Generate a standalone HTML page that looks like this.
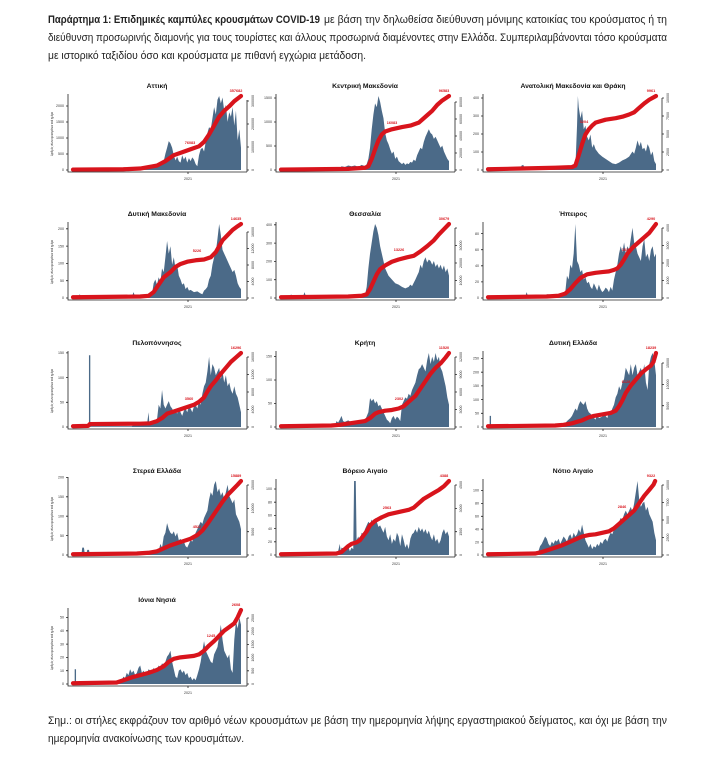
<!DOCTYPE html>
<html><head><meta charset="utf-8"><style>
html,body{margin:0;padding:0;background:#fff;}
svg{display:block;}
.ax{stroke:#222;stroke-width:.8;fill:none}
.bar{fill:#4b6a88}
.red{fill:none;stroke:#d8141c;stroke-width:4.2;stroke-linejoin:round;stroke-linecap:round}
.tk{font-family:"Liberation Sans",sans-serif;font-size:3.6px;fill:#333}
.tt{font-family:"Liberation Sans",sans-serif;font-weight:bold;font-size:6.8px;fill:#111;text-anchor:middle}
.rl{font-family:"Liberation Sans",sans-serif;font-weight:bold;font-size:3.8px;fill:#d8141c;text-anchor:middle}
.tx{font-family:"Liberation Sans","Noto Sans CJK SC",sans-serif;font-size:11px;fill:#222}
.l{text-anchor:end}
.m{text-anchor:middle}
</style></head><body>
<svg width="713" height="758" viewBox="0 0 713 758" xmlns="http://www.w3.org/2000/svg">
<rect width="713" height="758" fill="#fff"/>

<text class="tx" x="48" y="23" font-weight="bold" textLength="272" lengthAdjust="spacingAndGlyphs">Παράρτημα 1:  Επιδημικές καμπύλες κρουσμάτων COVID-19</text>
<text class="tx" x="324" y="23" textLength="343" lengthAdjust="spacingAndGlyphs">με βάση την δηλωθείσα διεύθυνση μόνιμης κατοικίας του κρούσματος ή τη</text>
<text class="tx" x="48" y="41" textLength="619" lengthAdjust="spacingAndGlyphs">διεύθυνση προσωρινής διαμονής για τους τουρίστες και άλλους προσωρινά διαμένοντες στην Ελλάδα.  Συμπεριλαμβάνονται τόσο κρούσματα</text>
<text class="tx" x="48" y="59" textLength="318" lengthAdjust="spacingAndGlyphs">με ιστορικό ταξιδίου όσο και κρούσματα με πιθανή εγχώρια μετάδοση.</text>

<text class="tx" x="48" y="724" textLength="619" lengthAdjust="spacingAndGlyphs">Σημ.:  οι στήλες εκφράζουν τον αριθμό νέων κρουσμάτων με βάση την ημερομηνία λήψης εργαστηριακού δείγματος, και όχι με βάση την</text>
<text class="tx" x="48" y="742" textLength="196" lengthAdjust="spacingAndGlyphs">ημερομηνία ανακοίνωσης των κρουσμάτων.</text>

<!-- Chart 1 Αττική -->
<g transform="translate(68,170)">
<text class="tt" x="89" y="-82">Αττική</text>
<polygon class="bar" transform="translate(5,0) scale(1.68,-0.74)" points="0,0 0,0.5 20,0.5 30,0.8 38,1.5 42,3 44,2 46,5 48,4 50,6 52,8 53,7 54,12 55,22 56,30 57,39 58,36 59,30 60,20 61,13 62,18 63,12 64,10 65,20 66,14 67,18 68,10 69,16 70,12 71,17 72,14 73,8 74,5 75,20 76,28 77,30 78,25 79,38 80,50 81,58 82,55 83,70 84,85 85,75 86,95 87,100 88,90 89,98 90,80 91,88 92,65 93,78 94,72 95,85 96,60 97,80 98,40 99,55 100,30 100,0"/>
<polyline class="red" vector-effect="non-scaling-stroke" transform="translate(5,0) scale(1.68,-0.74)" points="0,0.5 30,1 40,2 50,6 55,12 60,20 65,24 70,28 75,32 78,38 81,48 84,60 87,72 90,80 93,86 96,93 100,100"/>
<text class="rl" x="168" y="-78">357682</text>
<text class="rl" x="122" y="-26">76083</text>
<path class="ax" d="M0,-76V2H179M179,2V-70M-2,0H0M-2,-16H0M-2,-32H0M-2,-48H0M-2,-64H0M179,0h2M179,-23h2M179,-46h2M179,-69h2M120,2v2"/>
<text class="tk l" x="-4" y="1.2">0</text><text class="tk l" x="-4" y="-14.8">500</text><text class="tk l" x="-4" y="-30.8">1000</text><text class="tk l" x="-4" y="-46.8">1500</text><text class="tk l" x="-4" y="-62.8">2000</text>
<text class="tk m" transform="translate(186,0) rotate(-90)">0</text><text class="tk m" transform="translate(186,-23) rotate(-90)">100000</text><text class="tk m" transform="translate(186,-46) rotate(-90)">200000</text><text class="tk m" transform="translate(186,-69) rotate(-90)">300000</text>
<text class="tk m" x="120" y="10">2021</text>
<text class="tk m" transform="translate(-15,-36) rotate(-90)" textLength="44" lengthAdjust="spacingAndGlyphs">Αριθμός νέων κρουσμάτων ανά ημέρα</text>
</g>

<!-- Chart 2 Κεντρική Μακεδονία -->
<g transform="translate(276,170)">
<text class="tt" x="89" y="-82">Κεντρική Μακεδονία</text>
<polygon class="bar" transform="translate(5,0) scale(1.68,-0.74)" points="0,0 0,0.5 30,0.5 35,1 36,5 38,4 40,6 42,5 44,6 46,4 48,7 50,5 51,8 52,15 53,30 54,55 55,75 56,90 57,85 58,100 59,92 60,80 61,70 62,50 63,40 64,35 65,28 66,22 67,25 68,15 69,18 70,12 71,10 72,8 73,10 74,7 75,9 76,8 77,11 78,10 79,14 80,12 81,20 82,25 83,30 84,28 85,38 86,45 87,50 88,55 89,50 90,48 91,42 92,45 93,40 94,35 95,30 96,33 97,25 98,20 99,15 100,12 100,0"/>
<polyline class="red" vector-effect="non-scaling-stroke" transform="translate(5,0) scale(1.68,-0.74)" points="0,0.5 40,1.5 50,3 52,5 54,15 56,28 58,40 60,48 62,52 66,55 72,58 77,60 82,64 87,74 90,80 93,88 96,94 100,100"/>
<text class="rl" x="168" y="-78">96583</text>
<text class="rl" x="116" y="-46">16083</text>
<path class="ax" d="M0,-76V2H179M179,2V-68M-2,0H0M-2,-24H0M-2,-48H0M-2,-72H0M179,0h2M179,-17h2M179,-34h2M179,-51h2M179,-68h2M120,2v2"/>
<text class="tk l" x="-4" y="1.2">0</text><text class="tk l" x="-4" y="-22.8">500</text><text class="tk l" x="-4" y="-46.8">1000</text><text class="tk l" x="-4" y="-70.8">1500</text>
<text class="tk m" transform="translate(186,0) rotate(-90)">0</text><text class="tk m" transform="translate(186,-17) rotate(-90)">20000</text><text class="tk m" transform="translate(186,-34) rotate(-90)">40000</text><text class="tk m" transform="translate(186,-51) rotate(-90)">60000</text><text class="tk m" transform="translate(186,-68) rotate(-90)">80000</text>
<text class="tk m" x="120" y="10">2021</text>
</g>

<!-- Chart 3 Ανατολική Μακεδονία και Θράκη -->
<g transform="translate(483,170)">
<text class="tt" x="90" y="-82">Ανατολική Μακεδονία και Θράκη</text>
<polygon class="bar" transform="translate(5,0) scale(1.68,-0.74)" points="0,0 0,0.5 19,0.5 20,6 21,7 22,1 30,1.5 40,2 45,3 50,2 52,3 53,60 53.5,100 54,85 55,70 56,80 57,55 58,60 59,45 60,40 61,48 62,30 63,35 64,28 66,22 68,18 70,15 72,12 74,9 76,8 78,10 80,13 82,15 84,18 86,25 87,22 88,30 89,40 90,32 91,38 92,28 93,30 94,25 95,35 96,30 97,20 98,25 99,12 100,8 100,0"/>
<polyline class="red" vector-effect="non-scaling-stroke" transform="translate(5,0) scale(1.68,-0.74)" points="0,1 20,2 40,3 50,4 52,6 54,20 56,35 58,48 60,55 62,60 64,64 70,68 76,70 80,72 84,75 87,78 90,84 93,90 96,95 100,100"/>
<text class="rl" x="168" y="-78">9961</text>
<text class="rl" x="101" y="-47">3204</text>
<path class="ax" d="M0,-76V2H179M179,2V-72M-2,0H0M-2,-18H0M-2,-36H0M-2,-54H0M-2,-72H0M179,0h2M179,-18h2M179,-36h2M179,-54h2M179,-72h2M120,2v2"/>
<text class="tk l" x="-4" y="1.2">0</text><text class="tk l" x="-4" y="-16.8">100</text><text class="tk l" x="-4" y="-34.8">200</text><text class="tk l" x="-4" y="-52.8">300</text><text class="tk l" x="-4" y="-70.8">400</text>
<text class="tk m" transform="translate(186,0) rotate(-90)">0</text><text class="tk m" transform="translate(186,-18) rotate(-90)">2500</text><text class="tk m" transform="translate(186,-36) rotate(-90)">5000</text><text class="tk m" transform="translate(186,-54) rotate(-90)">7500</text><text class="tk m" transform="translate(186,-72) rotate(-90)">10000</text>
<text class="tk m" x="120" y="10">2021</text>
</g>

<!-- Chart 4 Δυτική Μακεδονία -->
<g transform="translate(68,298)">
<text class="tt" x="89" y="-82">Δυτική Μακεδονία</text>
<polygon class="bar" transform="translate(5,0) scale(1.68,-0.74)" points="0,0 0,0.5 3,1 4,5 5,2 8,1 35,1 36,8 37,2 45,2 47,5 48,20 49,25 50,18 51,28 52,22 53,40 54,35 55,55 56,77 57,60 58,70 59,45 60,55 61,40 62,45 63,30 64,25 65,18 66,20 67,12 68,15 69,10 70,11 72,8 74,9 76,6 77,5 78,10 79,12 80,15 81,25 82,30 83,45 84,55 85,62 86,80 87,100 88,85 89,65 90,60 91,55 92,50 93,45 94,40 95,35 96,38 97,30 98,20 99,15 100,12 100,0"/>
<polyline class="red" vector-effect="non-scaling-stroke" transform="translate(5,0) scale(1.68,-0.74)" points="0,1 40,2 45,3 48,8 51,18 54,28 58,35 61,42 64,46 68,49 73,51 78,52 82,55 85,62 87,70 89,78 92,85 95,92 98,97 100,100"/>
<text class="rl" x="168" y="-78">14635</text>
<text class="rl" x="129" y="-46">5226</text>
<path class="ax" d="M0,-76V2H179M179,2V-66M-2,0H0M-2,-17.3H0M-2,-34.6H0M-2,-51.9H0M-2,-69.2H0M179,0h2M179,-16.5h2M179,-33h2M179,-49.5h2M179,-66h2M120,2v2"/>
<text class="tk l" x="-4" y="1.2">0</text><text class="tk l" x="-4" y="-16.1">50</text><text class="tk l" x="-4" y="-33.4">100</text><text class="tk l" x="-4" y="-50.7">150</text><text class="tk l" x="-4" y="-68">200</text>
<text class="tk m" transform="translate(186,0) rotate(-90)">0</text><text class="tk m" transform="translate(186,-16.5) rotate(-90)">4000</text><text class="tk m" transform="translate(186,-33) rotate(-90)">8000</text><text class="tk m" transform="translate(186,-49.5) rotate(-90)">12000</text><text class="tk m" transform="translate(186,-66) rotate(-90)">16000</text>
<text class="tk m" x="120" y="10">2021</text>
<text class="tk m" transform="translate(-15,-36) rotate(-90)" textLength="44" lengthAdjust="spacingAndGlyphs">Αριθμός νέων κρουσμάτων ανά ημέρα</text>
</g>

<!-- Chart 5 Θεσσαλία -->
<g transform="translate(276,298)">
<text class="tt" x="89" y="-82">Θεσσαλία</text>
<polygon class="bar" transform="translate(5,0) scale(1.68,-0.74)" points="0,0 0,0.5 5,0.5 6,5 7,1 13,1 14,8 15,1 30,2 35,3 40,4 45,3 50,4 51,15 52,40 53,60 54,75 55,90 56,100 57,95 58,85 59,70 60,60 61,50 62,40 63,35 64,30 66,25 68,20 70,18 72,15 74,13 76,15 77,18 78,16 80,25 81,30 82,35 83,45 84,40 85,50 86,55 87,48 88,52 89,50 90,45 91,50 92,42 93,46 94,40 95,45 96,38 97,44 98,35 99,40 100,30 100,0"/>
<polyline class="red" vector-effect="non-scaling-stroke" transform="translate(5,0) scale(1.68,-0.74)" points="0,1 40,2 48,3 51,5 53,12 55,22 57,32 59,39 62,44 66,49 70,52 75,55 79,57 83,63 87,70 91,78 94,86 97,93 100,100"/>
<text class="rl" x="168" y="-78">30679</text>
<text class="rl" x="123" y="-47">13226</text>
<path class="ax" d="M0,-76V2H179M179,2V-70M-2,0H0M-2,-18.3H0M-2,-36.6H0M-2,-54.9H0M-2,-73.2H0M179,0h2M179,-17.5h2M179,-35h2M179,-52.5h2M179,-70h2M120,2v2"/>
<text class="tk l" x="-4" y="1.2">0</text><text class="tk l" x="-4" y="-17.1">100</text><text class="tk l" x="-4" y="-35.4">200</text><text class="tk l" x="-4" y="-53.7">300</text><text class="tk l" x="-4" y="-72">400</text>
<text class="tk m" transform="translate(186,0) rotate(-90)">0</text><text class="tk m" transform="translate(186,-17.5) rotate(-90)">10000</text><text class="tk m" transform="translate(186,-35) rotate(-90)">20000</text><text class="tk m" transform="translate(186,-52.5) rotate(-90)">30000</text>
<text class="tk m" x="120" y="10">2021</text>
</g>

<!-- Chart 6 Ήπειρος -->
<g transform="translate(483,298)">
<text class="tt" x="90" y="-82">Ήπειρος</text>
<polygon class="bar" transform="translate(5,0) scale(1.68,-0.74)" points="0,0 0,0.5 22,0.5 23,8 24,1 33,2 35,5 40,4 44,6 46,8 47,30 48,25 49,45 50,40 51,60 52,100 53,50 54,45 55,35 56,38 57,25 58,28 59,20 60,22 61,15 62,12 63,20 64,15 65,10 66,18 67,12 68,8 69,10 70,14 71,12 72,8 73,15 74,10 75,25 76,35 77,45 78,60 79,70 80,62 81,75 82,60 83,70 84,65 85,80 86,95 87,75 88,70 89,60 90,55 91,50 92,70 93,80 94,55 95,60 96,50 97,65 98,70 99,55 100,60 100,0"/>
<polyline class="red" vector-effect="non-scaling-stroke" transform="translate(5,0) scale(1.68,-0.74)" points="0,1 35,2 42,3 46,6 49,12 52,20 55,27 59,32 64,34 68,35 72,36 75,38 77,40 79,45 81,52 83,60 86,68 90,76 93,82 96,88 100,100"/>
<text class="rl" x="168" y="-78">4290</text>
<text class="rl" x="143" y="-47">1832</text>
<path class="ax" d="M0,-76V2H179M179,2V-70M-2,0H0M-2,-16.1H0M-2,-32.2H0M-2,-48.3H0M-2,-64.4H0M179,0h2M179,-17.5h2M179,-35h2M179,-52.5h2M179,-70h2M120,2v2"/>
<text class="tk l" x="-4" y="1.2">0</text><text class="tk l" x="-4" y="-14.9">20</text><text class="tk l" x="-4" y="-31">40</text><text class="tk l" x="-4" y="-47.1">60</text><text class="tk l" x="-4" y="-63.2">80</text>
<text class="tk m" transform="translate(186,0) rotate(-90)">0</text><text class="tk m" transform="translate(186,-17.5) rotate(-90)">1000</text><text class="tk m" transform="translate(186,-35) rotate(-90)">2000</text><text class="tk m" transform="translate(186,-52.5) rotate(-90)">3000</text><text class="tk m" transform="translate(186,-70) rotate(-90)">4000</text>
<text class="tk m" x="120" y="10">2021</text>
</g>

<!-- Chart 7 Πελοπόννησος -->
<g transform="translate(68,427)">
<text class="tt" x="89" y="-82">Πελοπόννησος</text>
<polygon class="bar" transform="translate(5,0) scale(1.68,-0.74)" points="0,0 0,0.5 9.5,0.5 9.5,97 10.3,97 10.3,1 35,1 36,3 40,4 44,3 45,20 45.5,3 48,5 50,10 51,30 52,25 53,50 54,30 55,25 56,30 57,35 58,28 59,25 60,20 61,22 62,18 63,25 64,20 65,15 66,22 67,25 68,20 69,28 70,25 71,20 72,28 73,30 74,25 75,35 76,30 77,45 78,55 79,60 80,75 81,95 82,70 83,85 84,80 85,70 86,75 87,80 88,65 89,75 90,60 91,70 92,55 93,60 94,50 95,45 96,55 97,45 98,40 99,30 100,20 100,0"/>
<polyline class="red" vector-effect="non-scaling-stroke" transform="translate(5,0) scale(1.68,-0.74)" points="0,1 9,1.5 10,4 40,4.5 46,5 50,8 53,12 56,18 60,21 64,24 68,27 72,30 75,34 78,40 80,48 82,55 85,63 88,72 91,80 94,88 97,94 100,100"/>
<text class="rl" x="168" y="-78">16296</text>
<text class="rl" x="121" y="-27">3560</text>
<path class="ax" d="M0,-76V2H179M179,2V-70M-2,0H0M-2,-24.7H0M-2,-49.4H0M-2,-74.1H0M179,0h2M179,-17.5h2M179,-35h2M179,-52.5h2M179,-70h2M120,2v2"/>
<text class="tk l" x="-4" y="1.2">0</text><text class="tk l" x="-4" y="-23.5">50</text><text class="tk l" x="-4" y="-48.2">100</text><text class="tk l" x="-4" y="-72.9">150</text>
<text class="tk m" transform="translate(186,0) rotate(-90)">0</text><text class="tk m" transform="translate(186,-17.5) rotate(-90)">4000</text><text class="tk m" transform="translate(186,-35) rotate(-90)">8000</text><text class="tk m" transform="translate(186,-52.5) rotate(-90)">12000</text><text class="tk m" transform="translate(186,-70) rotate(-90)">16000</text>
<text class="tk m" x="120" y="10">2021</text>
<text class="tk m" transform="translate(-15,-36) rotate(-90)" textLength="44" lengthAdjust="spacingAndGlyphs">Αριθμός νέων κρουσμάτων ανά ημέρα</text>
</g>

<!-- Chart 8 Κρήτη -->
<g transform="translate(276,427)">
<text class="tt" x="89" y="-82">Κρήτη</text>
<polygon class="bar" transform="translate(5,0) scale(1.68,-0.74)" points="0,0 0,0.5 32,1 33,8 34,6 35,10 36,15 37,8 38,7 40,9 42,6 44,8 46,7 48,6 50,9 52,20 53,39 54,35 55,38 56,32 57,35 58,28 59,30 60,25 61,20 62,15 63,10 64,8 65,5 66,12 67,15 68,10 69,14 70,12 71,8 72,30 73,35 74,40 75,38 76,45 77,42 78,50 79,55 80,60 81,70 82,78 83,80 84,85 85,80 86,75 87,90 88,100 89,85 90,95 91,88 92,100 93,90 94,95 95,80 96,75 97,65 98,55 99,40 100,30 100,0"/>
<polyline class="red" vector-effect="non-scaling-stroke" transform="translate(5,0) scale(1.68,-0.74)" points="0,1 30,2 35,3 41,5 50,8 53,12 56,18 58,20 62,22 66,23 70,25 73,28 76,34 80,42 83,52 86,62 89,72 92,80 95,86 98,94 100,100"/>
<text class="rl" x="168" y="-78">11520</text>
<text class="rl" x="123" y="-27">2302</text>
<path class="ax" d="M0,-76V2H179M179,2V-70M-2,0H0M-2,-23.5H0M-2,-47H0M-2,-70.5H0M179,0h2M179,-17.5h2M179,-35h2M179,-52.5h2M179,-70h2M120,2v2"/>
<text class="tk l" x="-4" y="1.2">0</text><text class="tk l" x="-4" y="-22.3">50</text><text class="tk l" x="-4" y="-45.8">100</text><text class="tk l" x="-4" y="-69.3">150</text>
<text class="tk m" transform="translate(186,0) rotate(-90)">0</text><text class="tk m" transform="translate(186,-17.5) rotate(-90)">3000</text><text class="tk m" transform="translate(186,-35) rotate(-90)">6000</text><text class="tk m" transform="translate(186,-52.5) rotate(-90)">9000</text><text class="tk m" transform="translate(186,-70) rotate(-90)">12000</text>
<text class="tk m" x="120" y="10">2021</text>
</g>

<!-- Chart 9 Δυτική Ελλάδα -->
<g transform="translate(483,427)">
<text class="tt" x="90" y="-82">Δυτική Ελλάδα</text>
<polygon class="bar" transform="translate(5,0) scale(1.68,-0.74)" points="0,0 0,0.5 1,0.5 1,15 1.8,15 1.8,1 45,1 46,5 47,8 48,10 49,12 50,15 51,20 52,25 53,22 54,30 55,35 56,32 57,30 58,35 59,25 60,20 61,18 62,15 64,10 65,18 66,12 68,14 69,18 70,15 71,12 72,20 73,18 74,25 75,30 76,40 77,45 78,55 79,50 80,60 81,65 82,80 83,75 84,70 85,85 86,70 87,80 88,85 89,70 90,75 91,80 92,70 93,85 94,60 95,50 96,85 97,95 98,100 99,90 100,70 100,0"/>
<polyline class="red" vector-effect="non-scaling-stroke" transform="translate(5,0) scale(1.68,-0.74)" points="0,1 40,2 45,3 50,5 53,7 56,9 60,13 63,15 68,17 73,19 76,22 78,28 80,36 82,46 85,56 88,64 91,72 94,78 97,83 98.5,88 100,100"/>
<text class="rl" x="168" y="-78">18239</text>
<text class="rl" x="143" y="-44">6128</text>
<path class="ax" d="M0,-76V2H179M179,2V-64M-2,0H0M-2,-13.7H0M-2,-27.4H0M-2,-41.1H0M-2,-54.8H0M-2,-68.5H0M179,0h2M179,-21.3h2M179,-42.6h2M179,-64h2M120,2v2"/>
<text class="tk l" x="-4" y="1.2">0</text><text class="tk l" x="-4" y="-12.5">50</text><text class="tk l" x="-4" y="-26.2">100</text><text class="tk l" x="-4" y="-39.9">150</text><text class="tk l" x="-4" y="-53.6">200</text><text class="tk l" x="-4" y="-67.3">250</text>
<text class="tk m" transform="translate(186,0) rotate(-90)">0</text><text class="tk m" transform="translate(186,-21.3) rotate(-90)">5000</text><text class="tk m" transform="translate(186,-42.6) rotate(-90)">10000</text><text class="tk m" transform="translate(186,-64) rotate(-90)">15000</text>
<text class="tk m" x="120" y="10">2021</text>
</g>

<!-- Chart 10 Στερεά Ελλάδα -->
<g transform="translate(68,555)">
<text class="tt" x="89" y="-82">Στερεά Ελλάδα</text>
<polygon class="bar" transform="translate(5,0) scale(1.68,-0.74)" points="0,0 0,0.5 5,0.5 5.5,10 6.5,10 7,2 8,2 8.5,7 9.5,7 10,1 38,1 40,3 44,4 48,3 50,8 51,5 52,15 53,10 54,25 55,30 56,43 57,35 58,30 59,28 60,32 61,25 62,30 63,20 64,22 65,15 66,18 67,12 68,10 69,15 70,20 71,18 72,25 73,30 74,35 75,40 76,45 77,42 78,50 79,55 80,60 81,75 82,85 83,80 84,95 85,100 86,85 87,90 88,80 89,85 90,75 91,85 92,95 93,80 94,75 95,70 96,75 97,55 98,50 99,45 100,35 100,0"/>
<polyline class="red" vector-effect="non-scaling-stroke" transform="translate(5,0) scale(1.68,-0.74)" points="0,1 38,2 45,3 50,5 54,9 58,13 62,16 66,19 70,22 74,27 77,33 80,42 83,52 86,62 89,72 92,81 95,88 98,95 100,100"/>
<text class="rl" x="168" y="-78">15889</text>
<text class="rl" x="129" y="-27">4522</text>
<path class="ax" d="M0,-78V2H179M179,2V-70M-2,0H0M-2,-19.4H0M-2,-38.8H0M-2,-58.2H0M-2,-77.6H0M179,0h2M179,-23.3h2M179,-46.6h2M179,-70h2M120,2v2"/>
<text class="tk l" x="-4" y="1.2">0</text><text class="tk l" x="-4" y="-18.2">50</text><text class="tk l" x="-4" y="-37.6">100</text><text class="tk l" x="-4" y="-57">150</text><text class="tk l" x="-4" y="-76.4">200</text>
<text class="tk m" transform="translate(186,0) rotate(-90)">0</text><text class="tk m" transform="translate(186,-23.3) rotate(-90)">5000</text><text class="tk m" transform="translate(186,-46.6) rotate(-90)">10000</text><text class="tk m" transform="translate(186,-70) rotate(-90)">15000</text>
<text class="tk m" x="120" y="10">2021</text>
<text class="tk m" transform="translate(-15,-36) rotate(-90)" textLength="44" lengthAdjust="spacingAndGlyphs">Αριθμός νέων κρουσμάτων ανά ημέρα</text>
</g>

<!-- Chart 11 Βόρειο Αιγαίο -->
<g transform="translate(276,555)">
<text class="tt" x="89" y="-82">Βόρειο Αιγαίο</text>
<polygon class="bar" transform="translate(5,0) scale(1.68,-0.74)" points="0,0 0,0.5 33,1 34,5 35,15 35.5,5 36,10 38,8 40,12 41,5 42,10 43,8 43.5,100 44.5,100 45,20 46,25 47,18 48,30 49,28 50,35 51,40 52,45 53,42 54,48 55,40 56,50 57,45 58,38 59,40 60,35 61,30 62,38 63,25 64,20 65,28 66,15 67,22 68,18 69,30 70,25 71,12 72,28 73,20 74,10 75,15 76,8 77,22 78,28 79,30 80,35 81,30 82,38 83,32 84,36 85,30 86,35 87,28 88,33 89,25 90,20 91,28 92,18 93,22 94,15 95,20 96,30 97,35 98,28 99,32 100,25 100,0"/>
<polyline class="red" vector-effect="non-scaling-stroke" transform="translate(5,0) scale(1.68,-0.74)" points="0,1 33,2 36,4 38,8 40,12 42,15 45,17 47,20 49,26 51,32 53,40 56,46 60,51 64,55 68,57 72,59 76,61 79,64 82,70 85,76 88,80 91,84 94,88 97,93 100,100"/>
<text class="rl" x="168" y="-78">4388</text>
<text class="rl" x="111" y="-46">2563</text>
<path class="ax" d="M0,-76V2H179M179,2V-70M-2,0H0M-2,-13.2H0M-2,-26.4H0M-2,-39.6H0M-2,-52.8H0M-2,-66H0M179,0h2M179,-23.3h2M179,-46.6h2M179,-70h2M120,2v2"/>
<text class="tk l" x="-4" y="1.2">0</text><text class="tk l" x="-4" y="-12">20</text><text class="tk l" x="-4" y="-25.2">40</text><text class="tk l" x="-4" y="-38.4">60</text><text class="tk l" x="-4" y="-51.6">80</text><text class="tk l" x="-4" y="-64.8">100</text>
<text class="tk m" transform="translate(186,0) rotate(-90)">0</text><text class="tk m" transform="translate(186,-23.3) rotate(-90)">1500</text><text class="tk m" transform="translate(186,-46.6) rotate(-90)">3000</text><text class="tk m" transform="translate(186,-70) rotate(-90)">4500</text>
<text class="tk m" x="120" y="10">2021</text>
</g>

<!-- Chart 12 Νότιο Αιγαίο -->
<g transform="translate(483,555)">
<text class="tt" x="90" y="-82">Νότιο Αιγαίο</text>
<polygon class="bar" transform="translate(5,0) scale(1.68,-0.74)" points="0,0 0,0.5 29,1 30,5 31,12 32,15 33,20 34,25 35,22 36,15 37,12 38,18 39,15 40,20 41,18 42,22 43,15 44,20 45,25 46,22 47,18 48,25 49,28 50,22 51,30 52,25 53,28 54,35 55,30 56,41 57,30 58,20 59,15 60,10 61,15 62,8 63,12 64,10 65,15 66,12 67,18 68,15 69,20 70,22 71,18 72,25 73,30 74,28 75,35 76,40 77,38 78,45 79,50 80,48 81,55 82,60 83,55 84,60 85,65 86,58 87,70 88,85 89,100 90,75 91,65 92,70 93,72 94,60 95,65 96,55 97,50 98,45 99,30 100,20 100,0"/>
<polyline class="red" vector-effect="non-scaling-stroke" transform="translate(5,0) scale(1.68,-0.74)" points="0,1 28,2 32,4 36,7 40,10 44,13 48,17 52,21 56,25 60,27 64,28 68,30 72,32 75,36 78,42 81,48 84,54 87,60 90,70 93,80 96,88 98.5,95 99.5,100"/>
<text class="rl" x="168" y="-78">9322</text>
<text class="rl" x="139" y="-47">2846</text>
<path class="ax" d="M0,-76V2H179M179,2V-70M-2,0H0M-2,-12.9H0M-2,-25.8H0M-2,-38.7H0M-2,-51.6H0M-2,-64.5H0M179,0h2M179,-17.5h2M179,-35h2M179,-52.5h2M179,-70h2M120,2v2"/>
<text class="tk l" x="-4" y="1.2">0</text><text class="tk l" x="-4" y="-11.7">20</text><text class="tk l" x="-4" y="-24.6">40</text><text class="tk l" x="-4" y="-37.5">60</text><text class="tk l" x="-4" y="-50.4">80</text><text class="tk l" x="-4" y="-63.3">100</text>
<text class="tk m" transform="translate(186,0) rotate(-90)">0</text><text class="tk m" transform="translate(186,-17.5) rotate(-90)">2500</text><text class="tk m" transform="translate(186,-35) rotate(-90)">5000</text><text class="tk m" transform="translate(186,-52.5) rotate(-90)">7500</text><text class="tk m" transform="translate(186,-70) rotate(-90)">10000</text>
<text class="tk m" x="120" y="10">2021</text>
</g>

<!-- Chart 13 Ιόνια Νησιά -->
<g transform="translate(68,684)">
<text class="tt" x="89" y="-82">Ιόνια Νησιά</text>
<polygon class="bar" transform="translate(5,0) scale(1.68,-0.74)" points="0,0 0,0.5 1,0.5 1,20 1.8,20 1.8,1 28,1 29,5 30,10 31,8 32,15 33,12 34,20 35,15 36,18 37,12 38,15 39,22 40,25 41,15 42,18 43,12 44,15 45,20 46,18 47,15 48,22 49,18 50,20 51,25 52,22 53,28 54,25 55,30 56,37 57,40 58,45 59,30 60,20 61,10 62,8 63,18 64,20 65,15 66,18 67,12 68,15 69,8 70,10 71,5 72,8 73,5 74,12 75,20 76,30 77,45 78,58 79,45 80,40 81,35 82,30 83,28 84,40 85,45 86,50 87,65 88,80 89,60 90,45 91,40 92,35 93,40 94,20 95,15 96,60 97,85 98,75 99,90 100,80 100,0"/>
<polyline class="red" vector-effect="non-scaling-stroke" transform="translate(5,0) scale(1.68,-0.74)" points="0,1 26,2 30,5 35,9 40,12 45,15 50,19 54,24 57,30 60,34 64,36 68,37 72,38 75,40 78,45 81,52 84,58 87,65 90,72 93,77 96,82 98,90 100,100"/>
<text class="rl" x="168" y="-78">2608</text>
<text class="rl" x="143" y="-47">1245</text>
<path class="ax" d="M0,-76V2H179M179,2V-66M-2,0H0M-2,-13.3H0M-2,-26.6H0M-2,-39.9H0M-2,-53.2H0M-2,-66.5H0M179,0h2M179,-13.2h2M179,-26.4h2M179,-39.6h2M179,-52.8h2M179,-66h2M120,2v2"/>
<text class="tk l" x="-4" y="1.2">0</text><text class="tk l" x="-4" y="-12.1">10</text><text class="tk l" x="-4" y="-25.4">20</text><text class="tk l" x="-4" y="-38.7">30</text><text class="tk l" x="-4" y="-52">40</text><text class="tk l" x="-4" y="-65.3">50</text>
<text class="tk m" transform="translate(186,0) rotate(-90)">0</text><text class="tk m" transform="translate(186,-13.2) rotate(-90)">500</text><text class="tk m" transform="translate(186,-26.4) rotate(-90)">1000</text><text class="tk m" transform="translate(186,-39.6) rotate(-90)">1500</text><text class="tk m" transform="translate(186,-52.8) rotate(-90)">2000</text><text class="tk m" transform="translate(186,-66) rotate(-90)">2500</text>
<text class="tk m" x="120" y="10">2021</text>
<text class="tk m" transform="translate(-15,-36) rotate(-90)" textLength="44" lengthAdjust="spacingAndGlyphs">Αριθμός νέων κρουσμάτων ανά ημέρα</text>
</g>
</svg>
</body></html>
